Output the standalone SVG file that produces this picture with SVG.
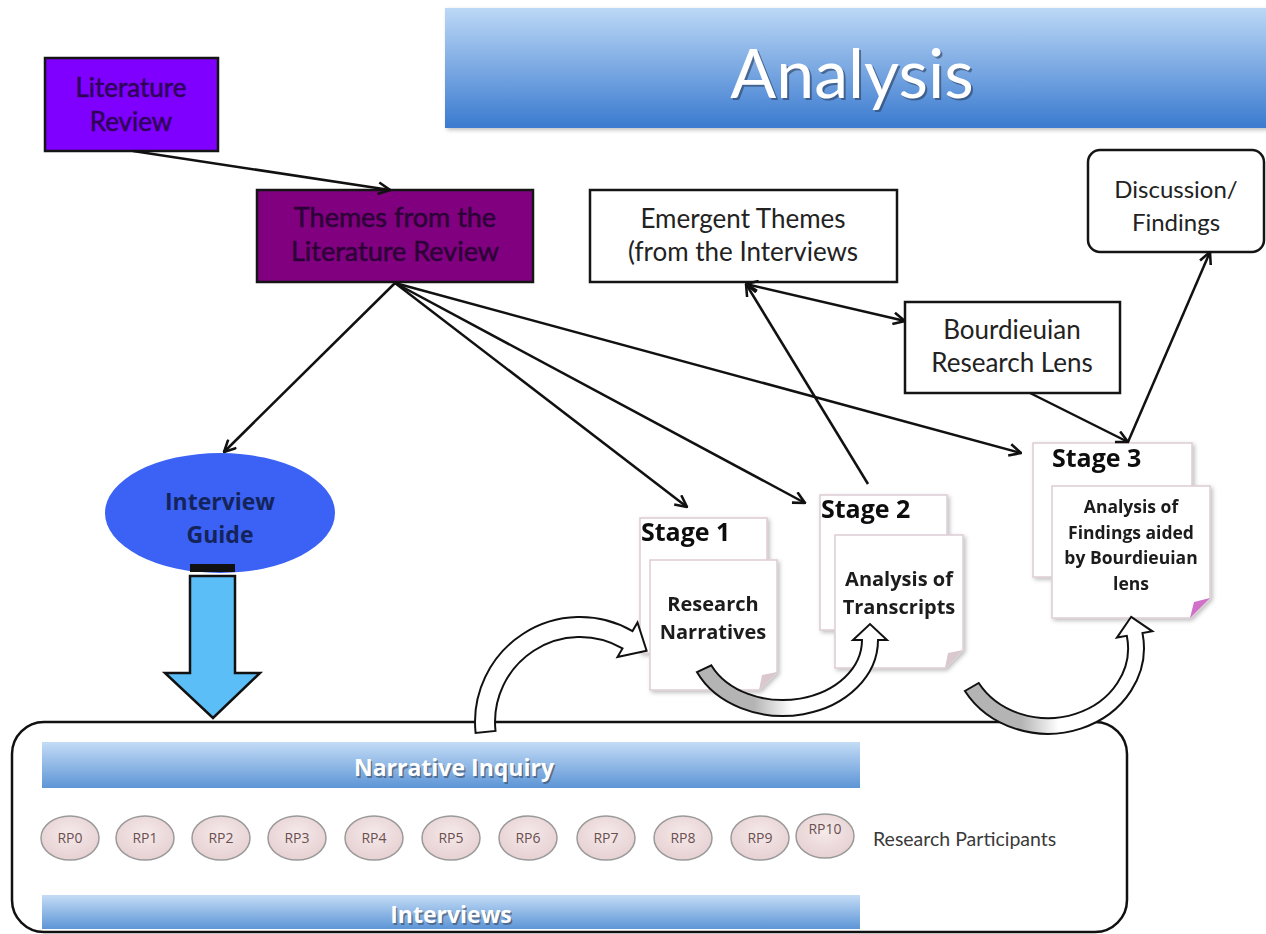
<svg xmlns="http://www.w3.org/2000/svg" width="1266" height="934" viewBox="0 0 1266 934">
<defs>
<linearGradient id="gTitle" x1="0" y1="0" x2="0" y2="1">
<stop offset="0" stop-color="#bcd8f6"/><stop offset="1" stop-color="#3a7acf"/>
</linearGradient>
<linearGradient id="gBar" x1="0" y1="0" x2="0" y2="1">
<stop offset="0" stop-color="#c4dcf6"/><stop offset="1" stop-color="#5d95d6"/>
</linearGradient>
<radialGradient id="gRP" cx="0.5" cy="0.4" r="0.6">
<stop offset="0" stop-color="#f6eaea"/><stop offset="1" stop-color="#e6d0d2"/>
</radialGradient>
<linearGradient id="gCurve" x1="0" y1="0" x2="1" y2="0">
<stop offset="0.3" stop-color="#b4b4b4"/><stop offset="0.5" stop-color="#ffffff"/>
</linearGradient>
<filter id="shadow" x="-10%" y="-10%" width="130%" height="130%">
<feDropShadow dx="2" dy="2" stdDeviation="2" flood-color="#000" flood-opacity="0.25"/>
</filter>
<marker id="ah" viewBox="0 0 12 12" refX="11" refY="6" markerWidth="14" markerHeight="14" markerUnits="userSpaceOnUse" orient="auto-start-reverse">
<path d="M1,1 L11,6 L1,11" fill="none" stroke="#111" stroke-width="2.2"/>
</marker>
<style>
.box{stroke:#151515;stroke-width:2.5}
.lbl{font-family:Lato,"Open Sans",sans-serif;text-anchor:middle}
.conn{stroke:#111;stroke-width:2.5;fill:none}
.page{fill:#fff;stroke:#ddccd3;stroke-width:1.5}
.stage{font-family:"Open Sans",Lato,sans-serif;font-weight:bold;font-size:25px;fill:#111}
.ptxt{font-family:"Open Sans",Lato,sans-serif;font-weight:bold;fill:#1a1a1a;text-anchor:middle}
.rp{fill:url(#gRP);stroke:#9a9a9a;stroke-width:1.5}
.rpt{font-family:"Open Sans",Lato,sans-serif;font-size:14px;fill:#6b5050;text-anchor:middle}
.bar{fill:url(#gBar)}
.bart{font-family:"Open Sans",Lato,sans-serif;font-weight:bold;font-size:23px;fill:#fff;text-anchor:middle}
.bars{font-family:"Open Sans",Lato,sans-serif;font-weight:bold;font-size:23px;fill:#3a4a60;text-anchor:middle;opacity:0.6}
</style>
</defs>
<rect width="1266" height="934" fill="#fff"/>

<g id="title">
<rect x="445" y="8" width="830" height="120" fill="url(#gTitle)" filter="url(#shadow)"/>
<text x="852" y="98" class="lbl" font-size="68" fill="#2a3f60" opacity="0.6" transform="translate(2,2)">Analysis</text>
<text x="852" y="98" class="lbl" font-size="68" fill="#fff">Analysis</text>
</g>

<g id="container">
<rect x="12" y="722" width="1115" height="210" rx="32" fill="none" stroke="#111" stroke-width="2.5"/>
</g>

<g id="narrative-inquiry">
<rect class="bar" x="42" y="742" width="818" height="46"/>
<text x="454" y="776" class="bars" transform="translate(1.5,1.5)">Narrative Inquiry</text>
<text x="454" y="776" class="bart">Narrative Inquiry</text>
</g>
<g id="interviews">
<rect class="bar" x="42" y="895" width="818" height="34"/>
<text x="451" y="923" class="bars" transform="translate(1.5,1.5)">Interviews</text>
<text x="451" y="923" class="bart">Interviews</text>
</g>

<g id="participants">
<g id="rp0"><ellipse class="rp" cx="70" cy="838" rx="29" ry="22"/><text class="rpt" x="70" y="843">RP0</text></g>
<g id="rp1"><ellipse class="rp" cx="145" cy="838" rx="29" ry="22"/><text class="rpt" x="145" y="843">RP1</text></g>
<g id="rp2"><ellipse class="rp" cx="221" cy="838" rx="29" ry="22"/><text class="rpt" x="221" y="843">RP2</text></g>
<g id="rp3"><ellipse class="rp" cx="297" cy="838" rx="29" ry="22"/><text class="rpt" x="297" y="843">RP3</text></g>
<g id="rp4"><ellipse class="rp" cx="374" cy="838" rx="29" ry="22"/><text class="rpt" x="374" y="843">RP4</text></g>
<g id="rp5"><ellipse class="rp" cx="451" cy="838" rx="29" ry="22"/><text class="rpt" x="451" y="843">RP5</text></g>
<g id="rp6"><ellipse class="rp" cx="528" cy="838" rx="29" ry="22"/><text class="rpt" x="528" y="843">RP6</text></g>
<g id="rp7"><ellipse class="rp" cx="606" cy="838" rx="29" ry="22"/><text class="rpt" x="606" y="843">RP7</text></g>
<g id="rp8"><ellipse class="rp" cx="683" cy="838" rx="29" ry="22"/><text class="rpt" x="683" y="843">RP8</text></g>
<g id="rp9"><ellipse class="rp" cx="760" cy="838" rx="29" ry="22"/><text class="rpt" x="760" y="843">RP9</text></g>
<g id="rp10"><ellipse class="rp" cx="825" cy="836" rx="29" ry="22"/><text class="rpt" x="825" y="834">RP10</text></g>
<text x="873" y="846" font-family="Lato,'Open Sans',sans-serif" font-size="19.5" fill="#3a3a3a">Research Participants</text>
</g>

<g id="literature-review">
<rect class="box" x="45" y="58" width="173" height="93" fill="#7f00ff"/>
<text class="lbl" x="131" y="97" font-size="26" fill="#2e0058" stroke="#2e0058" stroke-width="0.5">Literature</text>
<text class="lbl" x="131" y="131" font-size="26" fill="#2e0058" stroke="#2e0058" stroke-width="0.5">Review</text>
</g>

<g id="themes-lit">
<rect class="box" x="257" y="190" width="276" height="92" fill="#800080"/>
<text class="lbl" x="395" y="227" font-size="27" fill="#2c0036" stroke="#2c0036" stroke-width="0.5">Themes from the</text>
<text class="lbl" x="395" y="261" font-size="27" fill="#2c0036" stroke="#2c0036" stroke-width="0.5">Literature Review</text>
</g>

<g id="emergent-themes">
<rect class="box" x="590" y="190" width="307" height="92" fill="#fff"/>
<text class="lbl" x="743" y="228" font-size="26" fill="#222">Emergent Themes</text>
<text class="lbl" x="743" y="261" font-size="26" fill="#222">(from the Interviews</text>
</g>

<g id="bourdieuian">
<rect class="box" x="905" y="302" width="215" height="91" fill="#fff"/>
<text class="lbl" x="1012" y="339" font-size="26" fill="#222">Bourdieuian</text>
<text class="lbl" x="1012" y="372" font-size="26" fill="#222">Research Lens</text>
</g>

<g id="discussion">
<rect class="box" x="1088" y="150" width="176" height="102" rx="12" fill="#fff"/>
<text class="lbl" x="1176" y="198" font-size="24" fill="#222">Discussion/</text>
<text class="lbl" x="1176" y="231" font-size="24" fill="#222">Findings</text>
</g>

<g id="interview-guide">
<ellipse cx="220" cy="513" rx="115" ry="60" fill="#3b62f4"/>
<text x="220" y="510" class="ptxt" font-size="23" style="fill:#14245a">Interview</text>
<text x="220" y="543" class="ptxt" font-size="23" style="fill:#14245a">Guide</text>
<rect x="190" y="564" width="45" height="8" fill="#111"/>
<path d="M190,576 H235 V673 H260 L213,718 L165,673 H190 Z" fill="#5cbef6" stroke="#111" stroke-width="2.5"/>
</g>

<g id="stage1" filter="url(#shadow)">
<rect class="page" x="640" y="518" width="127" height="135"/>
<text class="stage" x="641" y="541">Stage 1</text>
<path class="page" d="M650,560 H777 V672 L759,690 H650 Z"/>
<path d="M777,672 L759,690 L762,675 Z" fill="#d9c9cf"/>
<text class="ptxt" x="713" y="611" font-size="20">Research</text>
<text class="ptxt" x="713" y="639" font-size="20">Narratives</text>
</g>

<g id="stage2" filter="url(#shadow)">
<rect class="page" x="820" y="495" width="127" height="135"/>
<text class="stage" x="821" y="518">Stage 2</text>
<path class="page" d="M835,535 H963 V650 L945,668 H835 Z"/>
<path d="M963,650 L945,668 L948,653 Z" fill="#d9c9cf"/>
<text class="ptxt" x="899" y="586" font-size="20">Analysis of</text>
<text class="ptxt" x="899" y="614" font-size="20">Transcripts</text>
</g>

<g id="stage3" filter="url(#shadow)">
<rect class="page" x="1033" y="443" width="159" height="134"/>
<text class="stage" x="1052" y="467">Stage 3</text>
<path class="page" d="M1052,486 H1210 V598 L1190,618 H1052 Z"/>
<path d="M1210,598 L1190,618 L1194,602 Z" fill="#d070c8"/>
<text class="ptxt" x="1131" y="513" font-size="17.5">Analysis of</text>
<text class="ptxt" x="1131" y="539" font-size="17.5">Findings  aided</text>
<text class="ptxt" x="1131" y="564" font-size="17.5">by Bourdieuian</text>
<text class="ptxt" x="1131" y="590" font-size="17.5">lens</text>
</g>

<g id="connectors">
<line class="conn" x1="133" y1="151" x2="390" y2="190" marker-end="url(#ah)"/>
<line class="conn" x1="395" y1="283" x2="224" y2="452" marker-end="url(#ah)"/>
<line class="conn" x1="395" y1="283" x2="687" y2="507" marker-end="url(#ah)"/>
<line class="conn" x1="395" y1="283" x2="805" y2="503" marker-end="url(#ah)"/>
<line class="conn" x1="395" y1="283" x2="1021" y2="453" marker-end="url(#ah)"/>
<line class="conn" x1="868" y1="484" x2="746" y2="284" marker-end="url(#ah)"/>
<line class="conn" x1="746" y1="284" x2="905" y2="321" marker-start="url(#ah)" marker-end="url(#ah)"/>
<line class="conn" x1="1030" y1="393" x2="1128" y2="442" marker-end="url(#ah)"/>
<line class="conn" x1="1128" y1="442" x2="1210" y2="252" marker-end="url(#ah)"/>
<path d="M495.5,730.9 A85,85 0 0 1 622.5,648.4 L617.5,657 L646.6,650.7 L637.5,622.4 L632.5,631.1 A105,105 0 0 0 475.6,733 Z" fill="#fff" stroke="#111" stroke-width="2"/>
<path d="M696.9,672.1 A95,76 0 0 0 878,640 L887,640 L870,624 L853,640 L862,640 A79,60 0 0 1 711.4,665.4 Z" fill="url(#gCurve)" stroke="#111" stroke-width="2"/>
<path d="M964.9,691 A96,86 0 0 0 1142.5,633.1 L1152.4,631.3 L1131.2,616.8 L1116.9,637.6 L1126.8,635.8 A80,70 0 0 1 978.7,683 Z" fill="url(#gCurve)" stroke="#111" stroke-width="2"/>
</g>
</svg>
